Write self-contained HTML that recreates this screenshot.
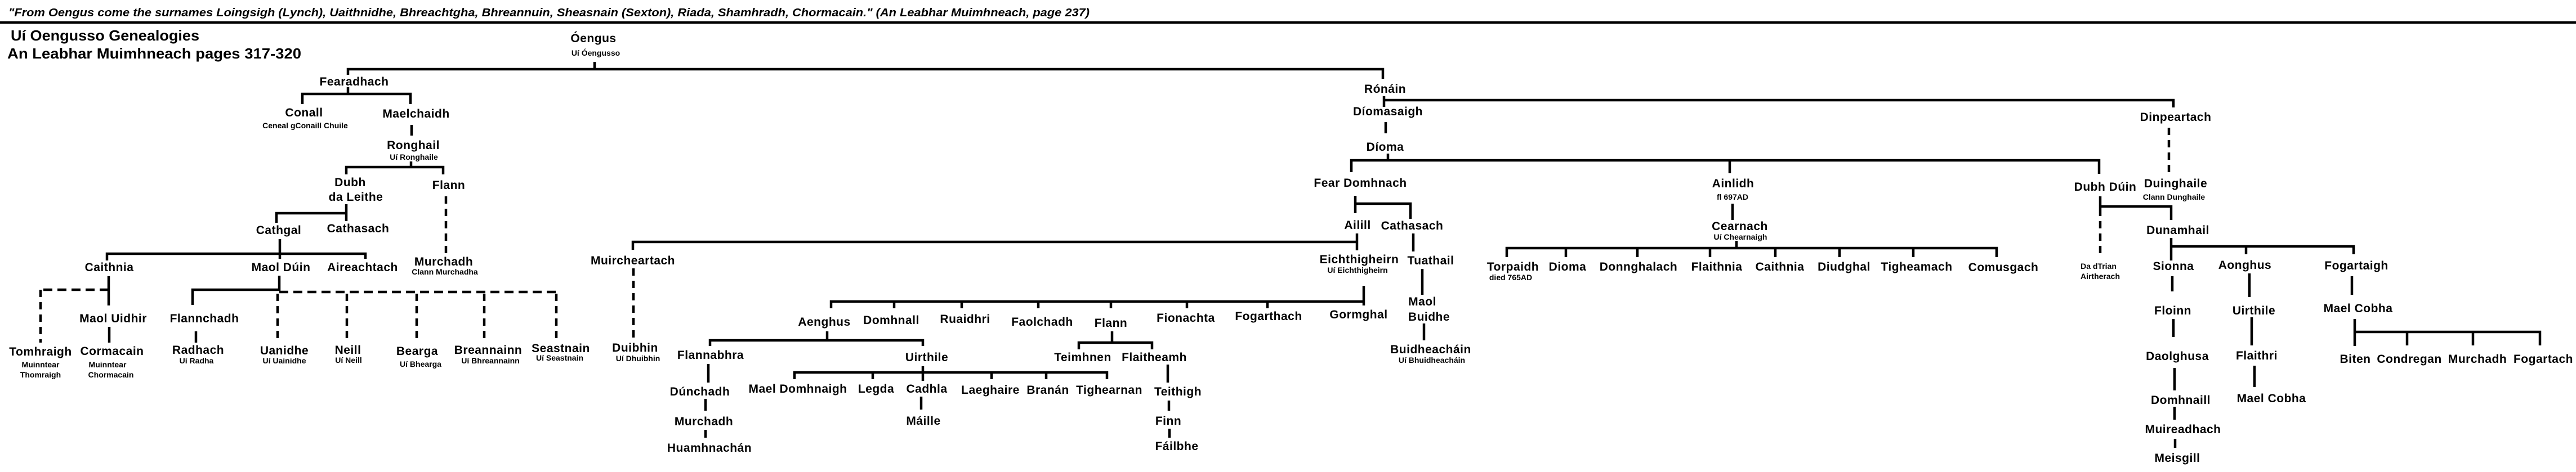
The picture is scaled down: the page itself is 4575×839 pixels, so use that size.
<!DOCTYPE html>
<html><head><meta charset="utf-8"><style>
html,body{margin:0;padding:0;background:#fff;}
svg{display:block;}
text{font-family:"Liberation Sans",Arial,sans-serif;font-weight:bold;fill:#000;}
.n{font-size:21px;letter-spacing:0.5px;text-anchor:middle;}
.s{font-size:14px;text-anchor:middle;}
.l{stroke:#000;stroke-width:4.5;fill:none;}
.d{stroke:#000;stroke-width:4.5;fill:none;stroke-dasharray:13 9;}
.dh{stroke:#000;stroke-width:4.5;fill:none;stroke-dasharray:16 9;}
</style></head><body>
<svg width="4575" height="839" viewBox="0 0 4575 839" xmlns="http://www.w3.org/2000/svg">
<rect width="4575" height="839" fill="#fff"/>
<text x="15" y="29" font-size="20" font-style="italic" textLength="1920" lengthAdjust="spacingAndGlyphs">"From Oengus come the surnames Loingsigh (Lynch), Uaithnidhe, Bhreachtgha, Bhreannuin, Sheasnain (Sexton), Riada, Shamhradh, Chormacain." (An Leabhar Muimhneach, page 237)</text>
<line class="l" x1="0" y1="40" x2="4575" y2="40"/>
<text x="19" y="72" font-size="26" textLength="335" lengthAdjust="spacingAndGlyphs">Uí Oengusso Genealogies</text>
<text x="13" y="104" font-size="26" textLength="522" lengthAdjust="spacingAndGlyphs">An Leabhar Muimhneach pages 317-320</text>

<g>
<!-- lines -->
<path class="l" d="M1056 110V123M618 133V123H2456V140"/>
<path class="l" d="M618 155V167M537 185V167H729V185"/>
<path class="l" d="M731 222V241"/>
<path class="l" d="M730 287V297M615 310V297H787V310"/>
<path class="d" d="M792 349V452"/>
<path class="l" d="M615 363V393M491 396V379H615"/>
<path class="l" d="M497 425V460M190 463V451H649V460"/>
<path class="l" d="M193 491V543"/>
<path class="dh" d="M193 515H72"/>
<path class="d" d="M72 515V609"/>
<path class="l" d="M194 581V609"/>
<path class="l" d="M496 490V515H342V542"/>
<path class="l" d="M348 589V609"/>
<path class="dh" d="M496 519H988"/>
<path class="d" d="M493 522V607M616 522V605M740 522V605M860 522V605M988 522V605"/>
<!-- Muircheartach / Ailill -->
<path class="l" d="M1124 444V430H2410M2410 415V445"/>
<path class="d" d="M1125 477V602"/>
<path class="l" d="M2422 508V543M1476 548V536H2422M1588 536V548M1708 536V548M1844 536V548M1973 536V548M2108 536V548M2251 536V548"/>
<path class="l" d="M1469 589V605M1261 615V605H1639V615"/>
<path class="l" d="M1258 647V680M1253 709V730M1253 764V778"/>
<path class="l" d="M1639 651V677M1411 674V662H1966V674M1550 662V674M1761 662V674M1858 662V674"/>
<path class="l" d="M1636 705V728"/>
<path class="l" d="M1975 589V609M1916 621V609H2046V621"/>
<path class="l" d="M2074 648V680M2076 712V730M2077 762V778"/>
<!-- Rónáin -->
<path class="l" d="M2458 171V190M2458 178H3860V191"/>
<path class="l" d="M2461 217V237"/>
<path class="l" d="M2465 273V285M2400 306V285H3728V309M3072 285V308"/>
<path class="l" d="M2407 348V379M2407 362H2505V389"/>
<path class="l" d="M2510 415V447M2526 478V524M2529 575V605"/>
<path class="l" d="M3077 362V391M3084 428V441M2676 457V441H3546V457M2781 441V457M2908 441V457M3037 441V457M3153 441V457M3267 441V457M3398 441V457"/>
<path class="d" d="M3852 227V308"/>
<path class="l" d="M3730 349V384M3730 367H3856V391"/>
<path class="d" d="M3730 393V452"/>
<path class="l" d="M3856 423V463M3856 438H4180V452M3989 438V452"/>
<path class="l" d="M3858 491V518M3860 567V599M3862 654V694M3862 723V746M3863 780V796"/>
<path class="l" d="M3995 486V528M3999 564V614M4004 650V688"/>
<path class="l" d="M4177 491V524M4182 567V615M4182 590H4511V614M4275 590V614M4392 590V614"/>
</g>

<g dy="0">
<text class="n" x="1054" y="75">Óengus</text>
<text class="s" x="1058" y="99">Uí Óengusso</text>
<text class="n" x="629" y="152">Fearadhach</text>
<text class="n" x="540" y="207">Conall</text>
<text class="s" x="542" y="228">Ceneal gConaill Chuile</text>
<text class="n" x="739" y="209">Maelchaidh</text>
<text class="n" x="734" y="265">Ronghail</text>
<text class="s" x="735" y="284">Uí Ronghaile</text>
<text class="n" x="622" y="331">Dubh</text>
<text class="n" x="632" y="357">da Leithe</text>
<text class="n" x="797" y="336">Flann</text>
<text class="n" x="495" y="416">Cathgal</text>
<text class="n" x="636" y="413">Cathasach</text>
<text class="n" x="194" y="482">Caithnia</text>
<text class="n" x="499" y="482">Maol Dúin</text>
<text class="n" x="644" y="482">Aireachtach</text>
<text class="n" x="788" y="472">Murchadh</text>
<text class="s" x="790" y="488">Clann Murchadha</text>
<text class="n" x="201" y="573">Maol Uidhir</text>
<text class="n" x="72" y="632">Tomhraigh</text>
<text class="s" x="72" y="653">Muinntear</text>
<text class="s" x="72" y="671">Thomraigh</text>
<text class="n" x="199" y="631">Cormacain</text>
<text class="s" x="191" y="653">Muinntear</text>
<text class="s" x="197" y="671">Chormacain</text>
<text class="n" x="363" y="573">Flannchadh</text>
<text class="n" x="352" y="629">Radhach</text>
<text class="s" x="349" y="646">Uí Radha</text>
<text class="n" x="505" y="630">Uanidhe</text>
<text class="s" x="505" y="646">Uí Uainidhe</text>
<text class="n" x="618" y="629">Neill</text>
<text class="s" x="619" y="645">Uí Neill</text>
<text class="n" x="741" y="631">Bearga</text>
<text class="s" x="747" y="652">Uí Bhearga</text>
<text class="n" x="867" y="629">Breannainn</text>
<text class="s" x="871" y="646">Uí Bhreannainn</text>
<text class="n" x="996" y="626">Seastnain</text>
<text class="s" x="994" y="641">Uí Seastnain</text>

<text class="n" x="1124" y="470">Muircheartach</text>
<text class="n" x="1128" y="625">Duibhin</text>
<text class="s" x="1133" y="642">Uí Dhuibhin</text>
<text class="n" x="1464" y="579">Aenghus</text>
<text class="n" x="1583" y="576">Domhnall</text>
<text class="n" x="1714" y="574">Ruaidhri</text>
<text class="n" x="1851" y="579">Faolchadh</text>
<text class="n" x="1973" y="581">Flann</text>
<text class="n" x="2106" y="572">Fionachta</text>
<text class="n" x="2253" y="569">Fogarthach</text>
<text class="n" x="2413" y="566">Gormghal</text>
<text class="n" x="1262" y="638">Flannabhra</text>
<text class="n" x="1646" y="642">Uirthile</text>
<text class="n" x="1243" y="703">Dúnchadh</text>
<text class="n" x="1250" y="756">Murchadh</text>
<text class="n" x="1260" y="803">Huamhnachán</text>
<text class="n" x="1417" y="698">Mael Domhnaigh</text>
<text class="n" x="1556" y="698">Legda</text>
<text class="n" x="1646" y="698">Cadhla</text>
<text class="n" x="1759" y="700">Laeghaire</text>
<text class="n" x="1861" y="700">Branán</text>
<text class="n" x="1970" y="700">Tighearnan</text>
<text class="n" x="1640" y="755">Máille</text>
<text class="n" x="1923" y="642">Teimhnen</text>
<text class="n" x="2050" y="642">Flaitheamh</text>
<text class="n" x="2092" y="703">Teithigh</text>
<text class="n" x="2075" y="755">Finn</text>
<text class="n" x="2090" y="800">Fáilbhe</text>

<text class="n" x="2460" y="165">Rónáin</text>
<text class="n" x="2465" y="205">Díomasaigh</text>
<text class="n" x="2460" y="268">Díoma</text>
<text class="n" x="2416" y="332">Fear Domhnach</text>
<text class="n" x="2411" y="407">Ailill</text>
<text class="n" x="2508" y="408">Cathasach</text>
<text class="n" x="2414" y="468">Eichthigheirn</text>
<text class="s" x="2411" y="485">Uí Eichthigheirn</text>
<text class="n" x="2541" y="470">Tuathail</text>
<text class="n" x="2526" y="543">Maol</text>
<text class="n" x="2538" y="570">Buidhe</text>
<text class="n" x="2541" y="628">Buidheacháin</text>
<text class="s" x="2543" y="645">Uí Bhuidheacháin</text>
<text class="n" x="3078" y="333">Ainlidh</text>
<text class="s" x="3077" y="355">fl 697AD</text>
<text class="n" x="3090" y="409">Cearnach</text>
<text class="s" x="3091" y="426">Uí Chearnaigh</text>
<text class="n" x="2687" y="481">Torpaidh</text>
<text class="s" x="2683" y="498">died 765AD</text>
<text class="n" x="2784" y="481">Dioma</text>
<text class="n" x="2910" y="481">Donnghalach</text>
<text class="n" x="3049" y="481">Flaithnia</text>
<text class="n" x="3161" y="481">Caithnia</text>
<text class="n" x="3275" y="481">Diudghal</text>
<text class="n" x="3404" y="481">Tigheamach</text>
<text class="n" x="3558" y="482">Comusgach</text>

<text class="n" x="3864" y="215">Dinpeartach</text>
<text class="n" x="3864" y="333">Duinghaile</text>
<text class="s" x="3861" y="355">Clann Dunghaile</text>
<text class="n" x="3739" y="339">Dubh Dúin</text>
<text class="s" x="3727" y="478">Da dTrian</text>
<text class="s" x="3730" y="496">Airtherach</text>
<text class="n" x="3868" y="416">Dunamhail</text>
<text class="n" x="3860" y="480">Sionna</text>
<text class="n" x="3987" y="478">Aonghus</text>
<text class="n" x="4185" y="479">Fogartaigh</text>
<text class="n" x="3859" y="559">Floinn</text>
<text class="n" x="3867" y="640">Daolghusa</text>
<text class="n" x="3873" y="718">Domhnaill</text>
<text class="n" x="3877" y="770">Muireadhach</text>
<text class="n" x="3867" y="821">Meisgill</text>
<text class="n" x="4003" y="559">Uirthile</text>
<text class="n" x="4008" y="639">Flaithri</text>
<text class="n" x="4034" y="715">Mael Cobha</text>
<text class="n" x="4188" y="555">Mael Cobha</text>
<text class="n" x="4183" y="645">Biten</text>
<text class="n" x="4279" y="645">Condregan</text>
<text class="n" x="4400" y="645">Murchadh</text>
<text class="n" x="4517" y="645">Fogartach</text>
</g>
</svg>
</body></html>
